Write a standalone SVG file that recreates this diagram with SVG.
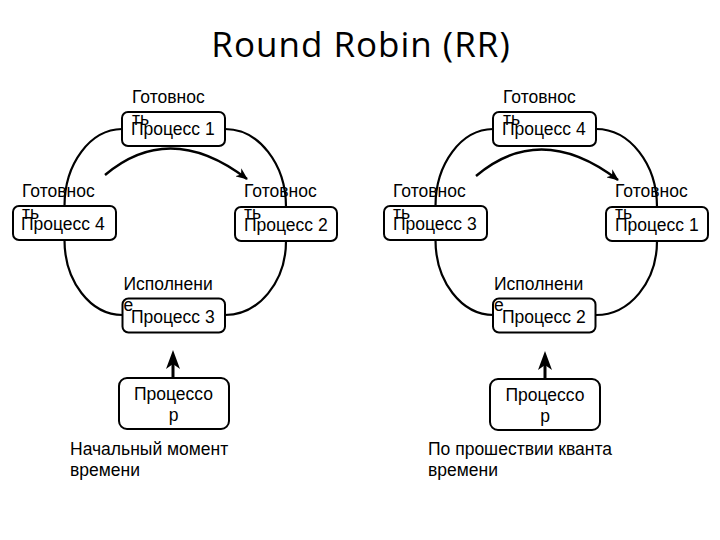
<svg xmlns="http://www.w3.org/2000/svg" width="720" height="540" viewBox="0 0 720 540">
<style>
.box{fill:#fff;stroke:#000;stroke-width:2}
.ring{fill:none;stroke:#000;stroke-width:2.2}
.arc{fill:none;stroke:#000;stroke-width:2.4}
.up{fill:none;stroke:#000;stroke-width:3}
.t{font-family:"Liberation Sans",Arial,sans-serif;font-size:17.5px;fill:#000}
.c{text-anchor:middle}
.title{font-family:"Open Sans","Liberation Sans",sans-serif;font-size:35px;fill:#000;text-anchor:middle}
</style>
<defs>
<marker id="ah" viewBox="0 0 12 10" refX="11" refY="5" markerWidth="12" markerHeight="10" markerUnits="userSpaceOnUse" orient="auto">
<path d="M0,0 L12,5 L0,10 L3.5,5 z" fill="#000"/>
</marker>
<marker id="big" viewBox="0 0 19 14" refX="13" refY="7" markerWidth="19" markerHeight="14" markerUnits="userSpaceOnUse" orient="auto">
<path d="M0,0 L19,7 L0,14 L5,7 z" fill="#000"/>
</marker>
</defs>
<rect width="720" height="540" fill="#fff"/>
<text class="title" x="361" y="57" letter-spacing="1">Round Robin (RR)</text>
<g id="connectors">
<path class="ring" d="M122,129 A58,77 0 0 0 64.5,206"/>
<path class="ring" d="M64.5,240 A58,75 0 0 0 122.5,315"/>
<path class="ring" d="M225,315 A61,74 0 0 0 286,241"/>
<path class="ring" d="M286,207 A61,78 0 0 0 225,129"/>
<path class="arc" d="M105,175 Q170,120 247,179" marker-end="url(#ah)"/>
<path class="up" d="M173,378 L173,356" marker-end="url(#big)"/>
<path class="ring" d="M493,129 A58,77 0 0 0 435.5,206"/>
<path class="ring" d="M435.5,240 A58,75 0 0 0 493.5,315"/>
<path class="ring" d="M596,315 A61,74 0 0 0 657,241"/>
<path class="ring" d="M657,207 A61,78 0 0 0 596,129"/>
<path class="arc" d="M476,176 Q541,121 618,180" marker-end="url(#ah)"/>
<path class="up" d="M545,379 L545,357" marker-end="url(#big)"/>
</g>
<g id="L-p1">
<rect class="box" x="122" y="112" width="103" height="34" rx="6"/>
<text class="t" x="131" y="135">Процесс 1</text>
<text class="t" x="132" y="103">Готовнос</text>
<text class="t" x="132" y="124.5">ть</text>
</g>
<g id="L-p4">
<rect class="box" x="13" y="206" width="103" height="34" rx="6"/>
<text class="t" x="21" y="230">Процесс 4</text>
<text class="t" x="22" y="197">Готовнос</text>
<text class="t" x="22" y="218.5">ть</text>
</g>
<g id="L-p2">
<rect class="box" x="235" y="207" width="102" height="34" rx="6"/>
<text class="t" x="244" y="231">Процесс 2</text>
<text class="t" x="244" y="197">Готовнос</text>
<text class="t" x="244" y="218.5">ть</text>
</g>
<g id="L-p3">
<rect class="box" x="122.5" y="298.5" width="102.5" height="34" rx="6"/>
<text class="t" x="131" y="323">Процесс 3</text>
<text class="t" x="123.5" y="289.5">Исполнени</text>
<text class="t" x="123.5" y="311">е</text>
</g>
<g id="L-cpu">
<rect class="box" x="119" y="378" width="110" height="51" rx="8"/>
<text class="t c" x="173.5" y="400">Процессо</text>
<text class="t c" x="173.5" y="421">р</text>
</g>
<g id="L-caption">
<text class="t" x="70" y="455">Начальный момент</text>
<text class="t" x="70" y="476">времени</text>
</g>
<g id="R-p4">
<rect class="box" x="493" y="112" width="103" height="34" rx="6"/>
<text class="t" x="502" y="135">Процесс 4</text>
<text class="t" x="503" y="103">Готовнос</text>
<text class="t" x="503" y="124.5">ть</text>
</g>
<g id="R-p3">
<rect class="box" x="384" y="206" width="103" height="34" rx="6"/>
<text class="t" x="393" y="230">Процесс 3</text>
<text class="t" x="393" y="197">Готовнос</text>
<text class="t" x="393" y="218.5">ть</text>
</g>
<g id="R-p1">
<rect class="box" x="606" y="207" width="102" height="34" rx="6"/>
<text class="t" x="615" y="231">Процесс 1</text>
<text class="t" x="615" y="197">Готовнос</text>
<text class="t" x="615" y="218.5">ть</text>
</g>
<g id="R-p2">
<rect class="box" x="493" y="298.5" width="102.5" height="34" rx="6"/>
<text class="t" x="502" y="323">Процесс 2</text>
<text class="t" x="494" y="289.5">Исполнени</text>
<text class="t" x="494" y="311">е</text>
</g>
<g id="R-cpu">
<rect class="box" x="490" y="379" width="110" height="51" rx="8"/>
<text class="t c" x="545" y="401">Процессо</text>
<text class="t c" x="545" y="422">р</text>
</g>
<g id="R-caption">
<text class="t" x="428" y="455">По прошествии кванта</text>
<text class="t" x="428" y="476">времени</text>
</g>
</svg>
